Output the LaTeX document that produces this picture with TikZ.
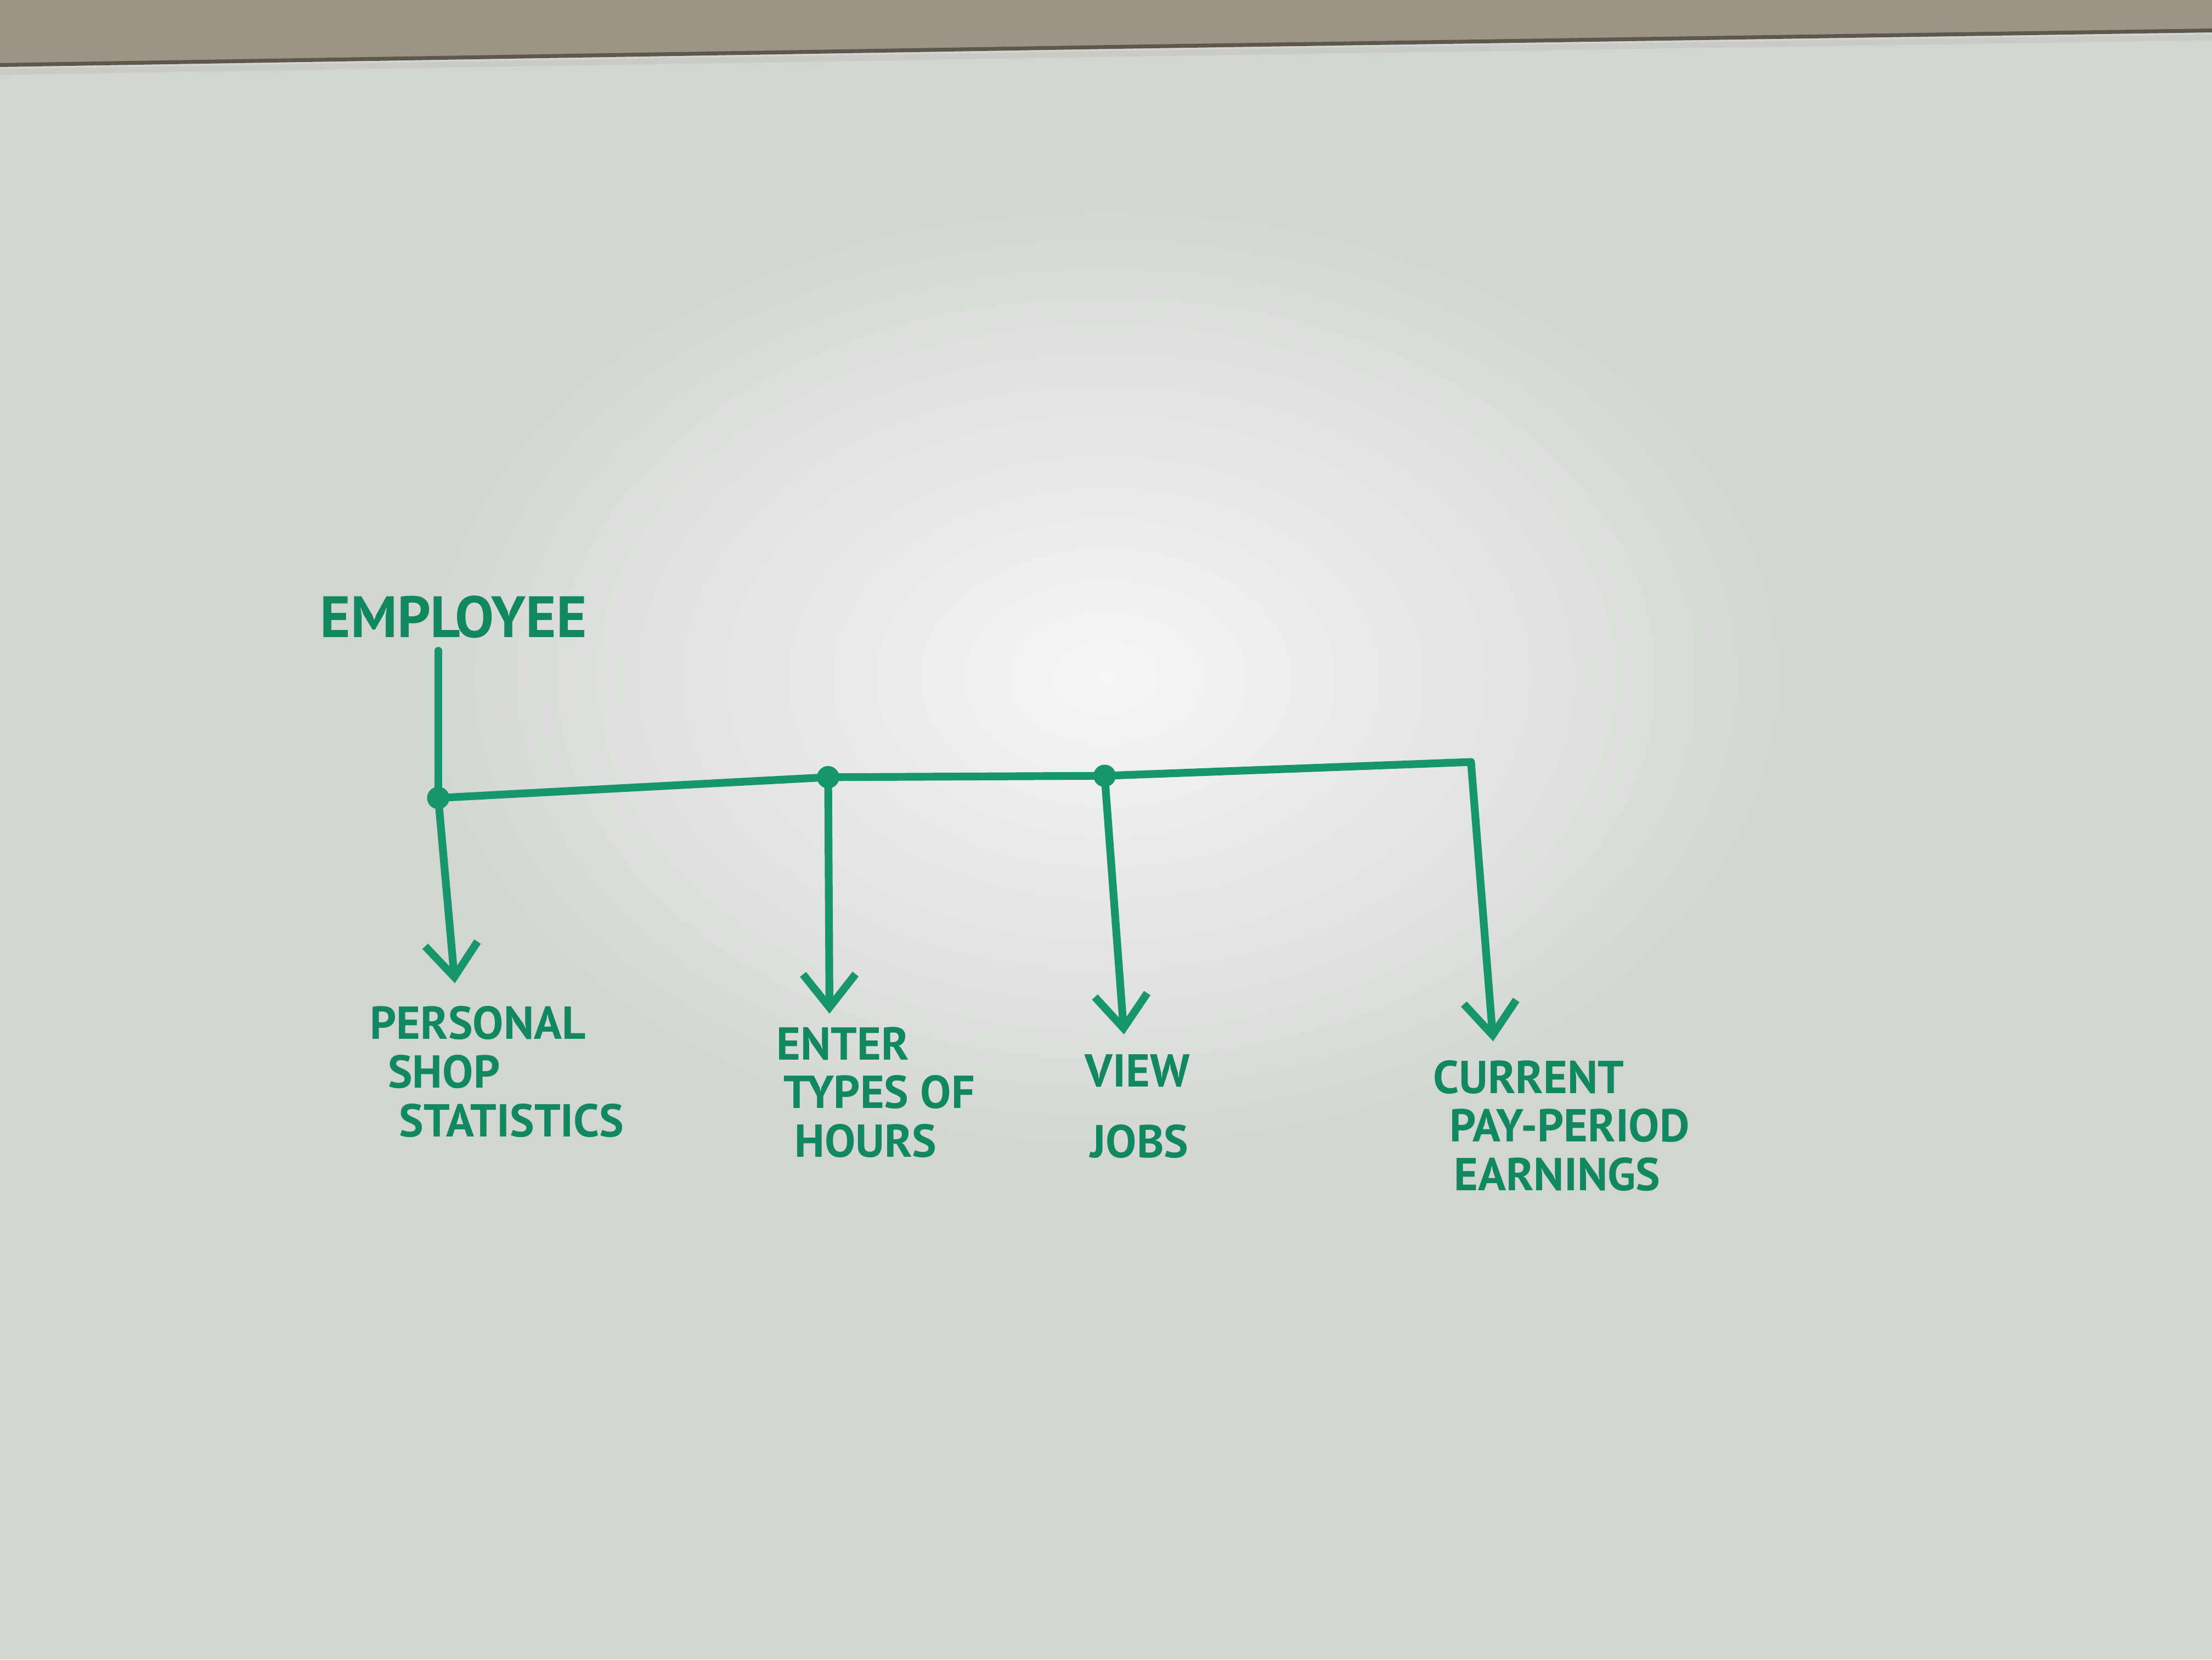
\documentclass[tikz,border=0pt]{standalone}
\usepackage{fontspec}
\setmainfont{PT Sans}
\usepackage{tikz}
\usetikzlibrary{positioning,arrows.meta}
\definecolor{board}{HTML}{D2D6D1}
\definecolor{glare}{HTML}{F6F7F5}
\definecolor{wall}{HTML}{9C9486}
\definecolor{wallB}{HTML}{5E574C}
\definecolor{rim}{HTML}{CACBC4}
\definecolor{ink}{HTML}{17956D}
\definecolor{inkD}{HTML}{118862}

\begin{document}
\begin{tikzpicture}[
    every node/.style={text=inkD},
    wire/.style={draw=ink, line width=1.6pt, line cap=round, line join=round},
    down/.style={wire, -{Straight Barb[length=2.4mm, width=3.8mm, line width=1.6pt]}},
    dot/.style={circle, fill=ink, inner sep=0pt, minimum size=4.6pt},
    head/.style={font=\bfseries\fontsize{12}{12}\selectfont, inner sep=1pt},
    item/.style={anchor=north west, align=left, inner sep=0pt,
                 font=\bfseries\fontsize{9.5}{10}\selectfont},
  ]
  \useasboundingbox (0,0) rectangle (16,-12);

  % the whiteboard and its top frame
  \fill[board] (0,0) rectangle (16,-12);
  \shade[inner color=glare, outer color=board] (8.0,-4.9) ellipse (5.2 and 3.6);
  \fill[wall] (0,0) -- (16,0) -- (16,-0.22) -- (8,-0.34) -- (0,-0.47) -- cycle;
  \draw[wallB, line width=0.8pt] (0,-0.47) -- (8,-0.34) -- (16,-0.22);
  \draw[rim, line width=1.2pt] (0,-0.52) -- (8,-0.39) -- (16,-0.27);

  % the actor
  \node[head] (emp) at (3.28,-4.46) {EMPLOYEE};

  % junctions on the bar
  \node[dot] (j1) at (3.17,-5.77) {};
  \node[dot] (j2) at (5.99,-5.62) {};
  \node[dot] (j3) at (7.99,-5.61) {};
  \coordinate (c4) at (10.64,-5.51);

  % arrow ends
  \coordinate (t1) at (3.29,-7.11);
  \coordinate (t2) at (6.00,-7.33);
  \coordinate (t3) at (8.13,-7.48);
  \coordinate (t4) at (10.80,-7.53);

  % stem and bar
  \draw[wire] ([yshift=-0.5mm]emp.south -| j1) -- (j1.center);
  \draw[down] (j1.center) -- (j2.center) -- (j3.center) -- (c4) -- (t4);
  \draw[down] (j1.center) -- (t1);
  \draw[down] (j2.center) -- (t2);
  \draw[down] (j3.center) -- (t3);

  % the four features
  \node[item] (stats) at (2.67,-7.27)
        {PERSONAL\\\hspace*{1.3mm}SHOP\\\hspace*{2.1mm}STATISTICS};
  \node[item] (hours) at (5.61,-7.42)
        {ENTER\\\hspace*{0.5mm}TYPES OF\\\hspace*{1.3mm}HOURS};
  \node[item] (jobs) at (7.84,-7.62)
        {VIEW\\[4.5pt]\hspace*{0.4mm}JOBS};
  \node[item] (earn) at (10.36,-7.66)
        {CURRENT\\\hspace*{1.2mm}PAY-PERIOD\\\hspace*{1.5mm}EARNINGS};
\end{tikzpicture}
\end{document}
